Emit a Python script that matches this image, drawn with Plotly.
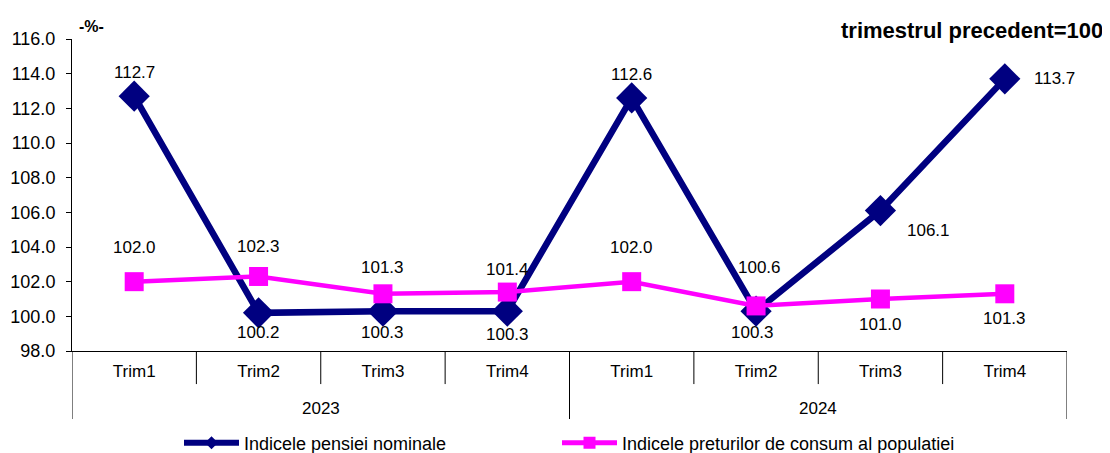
import plotly.graph_objects as go

trims = ["Trim1", "Trim2", "Trim3", "Trim4", "Trim1", "Trim2", "Trim3", "Trim4"]
years = ["2023", "2024"]
pension = [112.7, 100.2, 100.3, 100.3, 112.6, 100.3, 106.1, 113.7]
cpi = [102.0, 102.3, 101.3, 101.4, 102.0, 100.6, 101.0, 101.3]
y_ticks = [98, 100, 102, 104, 106, 108, 110, 112, 114, 116]

name_pension = "Indicele pensiei nominale"
name_cpi = "Indicele preturilor de consum al populatiei"

# label offsets (px) for each point: (xshift, yshift)
pension_off = [(0, 24), (0, -20), (0, -21), (0, -23), (0, 23), (-4, -21), (48, -20), (50, 0)]
cpi_off = [(0, 34), (0, 30), (0, 26), (0, 23), (0, 34), (3, 38), (0, -25), (0, -25)]

n = len(trims)
xpos = [i + 0.5 for i in range(n)]

FONT = "Liberation Sans, Arial, sans-serif"
BLUE = "#000080"
PINK = "#FF00FF"

W, H = 1102, 445
L, R, T, B = 64, 43, 31, 102
pw, ph = W - L - R, H - T - B

fig = go.Figure()
fig.add_trace(go.Scatter(
    x=xpos, y=pension, name=name_pension, mode="lines+markers", showlegend=False,
    line=dict(color=BLUE, width=6.5),
    marker=dict(symbol="diamond", size=24, color=BLUE),
))
fig.add_trace(go.Scatter(
    x=xpos, y=cpi, name=name_cpi, mode="lines+markers", showlegend=False,
    line=dict(color=PINK, width=4.5),
    marker=dict(symbol="square", size=19, color=PINK),
))
# legend entries (smaller symbols as in the reference legend)
fig.add_trace(go.Scatter(
    x=[None], y=[None], name=name_pension, mode="lines+markers", legend="legend",
    line=dict(color=BLUE, width=6), marker=dict(symbol="diamond", size=10, color=BLUE),
))
fig.add_trace(go.Scatter(
    x=[None], y=[None], name=name_cpi, mode="lines+markers", legend="legend2",
    line=dict(color=PINK, width=5), marker=dict(symbol="square", size=12, color=PINK),
))

ann = []
for xv, v, (dx, dy) in zip(xpos, pension, pension_off):
    ann.append(dict(x=xv, y=v, text=f"{v:.1f}", showarrow=False, xshift=dx, yshift=dy,
                    font=dict(size=17, color="black", family=FONT)))
for xv, v, (dx, dy) in zip(xpos, cpi, cpi_off):
    ann.append(dict(x=xv, y=v, text=f"{v:.1f}", showarrow=False, xshift=dx, yshift=dy,
                    font=dict(size=17, color="black", family=FONT)))

for k, yr in enumerate(years):
    ann.append(dict(x=k * 4 + 2, y=-0.183, xref="x", yref="paper", text=yr, showarrow=False,
                    yanchor="middle", xanchor="center",
                    font=dict(size=17, color="black", family=FONT)))

ann.append(dict(x=(1097 - L) / pw, y=(H - B - 22) / ph, xref="paper", yref="paper",
                text="<b>trimestrul precedent=100</b>", showarrow=False,
                xanchor="right", yanchor="middle",
                font=dict(size=22, color="black", family=FONT)))
ann.append(dict(x=(69 - L) / pw, y=(H - B - 19) / ph, xref="paper", yref="paper",
                text="<b>-%-</b>", showarrow=False, xanchor="left", yanchor="middle",
                font=dict(size=16, color="black", family=FONT)))

shapes = []
for i in range(n + 1):
    bottom = -0.218 if i % 4 == 0 else -0.106
    shapes.append(dict(type="line", xref="x", yref="paper", x0=i, x1=i, y0=0, y1=bottom,
                       line=dict(color="black", width=1)))

legend_common = dict(orientation="h", xref="container", yref="container", y=1 - 435 / H,
                     xanchor="left", yanchor="middle", bgcolor="rgba(0,0,0,0)",
                     font=dict(size=18, family=FONT, color="black"), itemwidth=55)

fig.update_layout(
    width=W, height=H,
    margin=dict(l=L, r=R, t=T, b=B, autoexpand=False),
    plot_bgcolor="white", paper_bgcolor="white",
    font=dict(family=FONT, size=17, color="black"),
    showlegend=True,
    legend=dict(x=171 / W, **legend_common),
    legend2=dict(x=549 / W, **legend_common),
    annotations=ann,
    shapes=shapes,
)
fig.update_xaxes(range=[0, n], tickvals=xpos, ticktext=trims, showline=True, linecolor="black",
                 linewidth=1, ticks="", showgrid=False, zeroline=False, ticklabelstandoff=5,
                 automargin=False, tickfont=dict(size=17, family=FONT))
fig.update_yaxes(range=[98, 116], tickvals=y_ticks, tickformat=".1f", showline=True, linecolor="black",
                 linewidth=1, ticks="outside", ticklen=5, tickcolor="black", showgrid=False,
                 zeroline=False, ticklabelstandoff=7, automargin=False,
                 tickfont=dict(size=18, family=FONT))

fig.write_html("out.html")
